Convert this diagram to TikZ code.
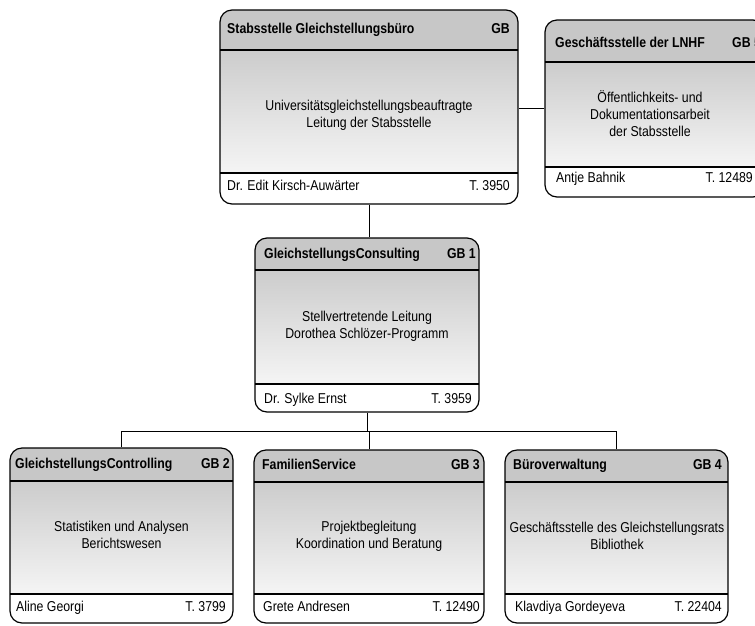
\documentclass[tikz,border=0pt]{standalone}
\usepackage{fontspec}
\setmainfont{Liberation Sans}[FakeStretch=0.86]
\usetikzlibrary{fit}
\tikzset{
  orgframe/.style={draw=black, line width=1.2pt, rounded corners=12pt, inner sep=0pt},
  ttl/.style={font=\bfseries\fontsize{14.3}{16}\selectfont, inner sep=0pt, text height=10pt, text depth=3pt},
  bodytxt/.style={font=\fontsize{14.3}{17}\selectfont, align=center, inner sep=0pt},
  foot/.style={font=\fontsize{14.3}{16}\selectfont, inner sep=0pt, text height=10pt, text depth=3pt},
  sepline/.style={line width=1.2pt},
  conn/.style={line width=0.8pt},
}
\newcommand{\orgbox}[7]{%
  \begin{scope}
    \clip[rounded corners=12pt] (#2,#3) rectangle (#4,#5);
    \fill[black!22] (#2,#3) rectangle (#4,#6);
    \shade[top color=black!20, bottom color=black!4] (#2,#6) rectangle (#4,#7);
  \end{scope}
  \node[orgframe, fit={(#2,#3)(#4,#5)}] (#1) {};
  \draw[sepline] (#2,#6) -- (#4,#6);
  \draw[sepline] (#2,#7) -- (#4,#7);
}
\begin{document}
\begin{tikzpicture}[x=1pt, y=-1pt]
\useasboundingbox (0,0) rectangle (755,625);
\fill[white] (0,0) rectangle (755,625);

% Stabsstelle
\orgbox{gb}{220}{10}{518}{204}{50}{173}
\node[ttl, anchor=west] (gb-t) at (227,30) {Stabsstelle Gleichstellungsbüro};
\node[ttl, anchor=east] (gb-c) at (510,30) {GB};
\node[bodytxt] (gb-b) at (369,115.5) {Universitätsgleichstellungsbeauftragte\\Leitung der Stabsstelle};
\node[foot, anchor=west] (gb-p) at (227,187) {Dr. Edit Kirsch-Auwärter};
\node[foot, anchor=east] (gb-n) at (510,187) {T. 3950};

% GB 5
\orgbox{gb5}{545}{20}{765}{197}{62}{167}
\node[ttl, anchor=west] (gb5-t) at (555,44) {Geschäftsstelle der LNHF};
\node[ttl, anchor=west] (gb5-c) at (732,44) {GB 5};
\node[bodytxt] (gb5-b) at (650,114) {Öffentlichkeits- und\\Dokumentationsarbeit\\der Stabsstelle};
\node[foot, anchor=west] (gb5-p) at (556,179) {Antje Bahnik};
\node[foot, anchor=east] (gb5-n) at (753,179) {T. 12489};

% GB 1
\orgbox{gb1}{255}{238}{479}{412}{270}{384}
\node[ttl, anchor=west] (gb1-t) at (264,255) {GleichstellungsConsulting};
\node[ttl, anchor=east] (gb1-c) at (476,255) {GB 1};
\node[bodytxt] (gb1-b) at (367,326.5) {Stellvertretende Leitung\\Dorothea Schlözer-Programm};
\node[foot, anchor=west] (gb1-p) at (264,400) {Dr. Sylke Ernst};
\node[foot, anchor=east] (gb1-n) at (472,400) {T. 3959};

% GB 2
\orgbox{gb2}{10}{448}{233}{623}{481}{594}
\node[ttl, anchor=west] (gb2-t) at (15,465) {GleichstellungsControlling};
\node[ttl, anchor=east] (gb2-c) at (230,465) {GB 2};
\node[bodytxt] (gb2-b) at (121.5,535) {Statistiken und Analysen\\Berichtswesen};
\node[foot, anchor=west] (gb2-p) at (16,608) {Aline Georgi};
\node[foot, anchor=east] (gb2-n) at (226,608) {T. 3799};

% GB 3
\orgbox{gb3}{254}{450}{484}{623}{482}{594}
\node[ttl, anchor=west] (gb3-t) at (262,466) {FamilienService};
\node[ttl, anchor=east] (gb3-c) at (480,466) {GB 3};
\node[bodytxt] (gb3-b) at (369,536) {Projektbegleitung\\Koordination und Beratung};
\node[foot, anchor=west] (gb3-p) at (263,608) {Grete Andresen};
\node[foot, anchor=east] (gb3-n) at (480,608) {T. 12490};

% GB 4
\orgbox{gb4}{505}{450}{728}{623}{482}{594}
\node[ttl, anchor=west] (gb4-t) at (513,466) {Büroverwaltung};
\node[ttl, anchor=east] (gb4-c) at (722,466) {GB 4};
\node[bodytxt] (gb4-b) at (617,535.5) {Geschäftsstelle des Gleichstellungsrats\\Bibliothek};
\node[foot, anchor=west] (gb4-p) at (515,608) {Klavdiya Gordeyeva};
\node[foot, anchor=east] (gb4-n) at (722,608) {T. 22404};

% connectors
\coordinate (bus) at (368,431);
\draw[conn] (gb.south) -- (gb.south |- gb1.north);
\draw[conn] (gb5.west) -- (gb5.west -| gb.east);
\draw[conn] (gb1.south) -- (gb1.south |- bus);
\draw[conn] (gb2.north |- bus) -- (gb4.north |- bus);
\draw[conn] (gb2.north |- bus) -- (gb2.north);
\draw[conn] (gb3.north |- bus) -- (gb3.north);
\draw[conn] (gb4.north |- bus) -- (gb4.north);
\end{tikzpicture}
\end{document}
